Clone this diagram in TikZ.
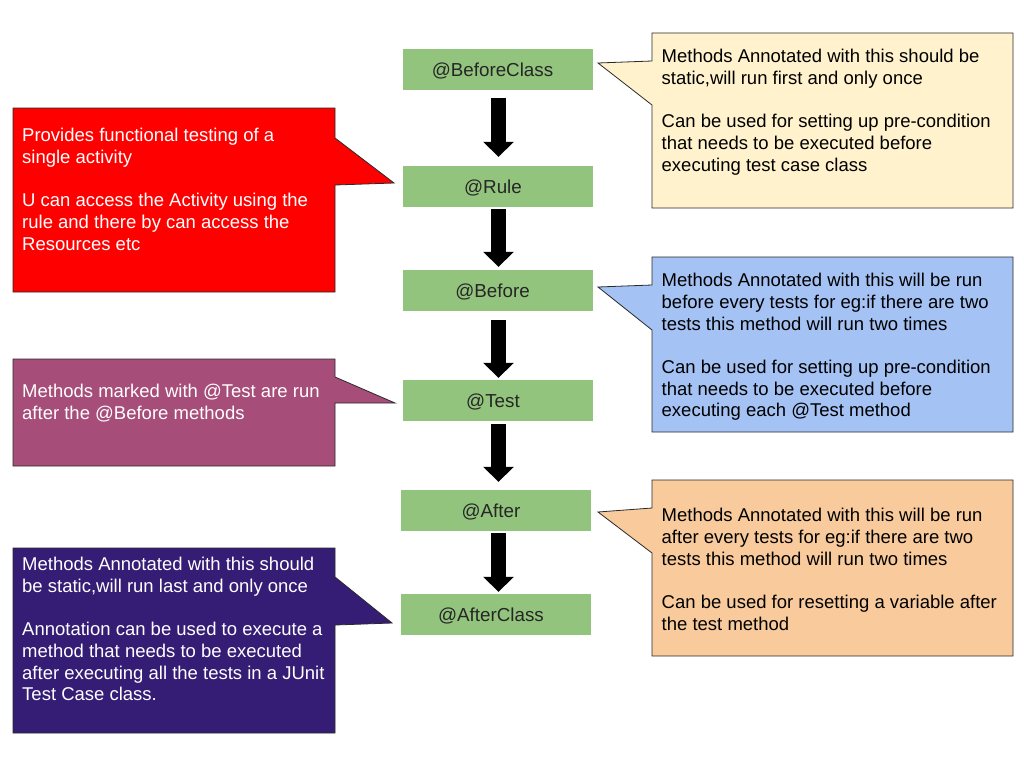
\documentclass[tikz,border=0pt]{standalone}
\usepackage{fontspec}
\setmainfont{Liberation Sans}
\usetikzlibrary{arrows.meta}
\definecolor{gbox}{HTML}{93C47D}
\definecolor{cyellow}{HTML}{FFF2CC}
\definecolor{cblue}{HTML}{A4C2F4}
\definecolor{corange}{HTML}{F9CB9C}
\definecolor{cred}{HTML}{FF0000}
\definecolor{cmag}{HTML}{A64D79}
\definecolor{cpurple}{HTML}{351C75}
\definecolor{edge}{HTML}{2A2A2A}
\begin{document}
\begin{tikzpicture}[x=1pt,y=-1pt,
  stepbox/.style={fill=gbox, minimum width=190pt, minimum height=41pt, inner sep=0pt,
    text height=13.3pt, text depth=0pt, text=black!85,
    font=\fontsize{18.8}{21.7}\selectfont, execute at end node={\hspace*{10pt}}},
  callout/.style={draw=edge, line width=0.8pt, line join=miter},
  ctext/.style={anchor=base west, align=left, inner sep=0pt,
    font=\fontsize{18.5}{21.7}\selectfont},
  blk/.style={line width=15pt, -{Triangle[width=30pt,length=15pt]}, black}
]
\useasboundingbox (0,0) rectangle (1024,768);
\fill[white] (0,0) rectangle (1024,768);

% callouts
\draw[callout, fill=cyellow] (652,33) -- (1013,33) -- (1013,208) -- (652,208) -- (652,105) -- (598,63) -- (652,61) -- cycle;
\draw[callout, fill=cred] (13,108) -- (335,108) -- (335,138) -- (394,183) -- (335,185) -- (335,292) -- (13,292) -- cycle;
\draw[callout, fill=cblue] (652,257) -- (1013,257) -- (1013,432) -- (652,432) -- (652,330) -- (598,287) -- (652,285) -- cycle;
\draw[callout, fill=cmag] (13,359) -- (335,359) -- (335,377) -- (395,403) -- (335,403) -- (335,466) -- (13,466) -- cycle;
\draw[callout, fill=corange] (652,480) -- (1013,480) -- (1013,656) -- (652,656) -- (652,553) -- (598,512) -- (652,508) -- cycle;
\draw[callout, fill=cpurple] (13,548) -- (335,548) -- (335,577) -- (392,623) -- (335,625) -- (335,733) -- (13,733) -- cycle;

% text nodes: base anchor is the baseline of the last line
\node[ctext] (tyellow) at (661.5,171.2) {Methods Annotated with this should be\\static,will run first and only once\\[21.7pt]Can be used for setting up pre-condition\\that needs to be executed before\\executing test case class};
\node[ctext, text=white] (tred) at (22,250.2) {Provides functional testing of a\\single activity\\[21.7pt]U can access the Activity using the\\rule and there by can access the\\Resources etc};
\node[ctext] (tblue) at (661.5,416.9) {Methods Annotated with this will be run\\before every tests for eg:if there are two\\tests this method will run two times\\[21.7pt]Can be used for setting up pre-condition\\that needs to be executed before\\executing each @Test method};
\node[ctext, text=white] (tmag) at (22,419.4) {Methods marked with @Test are run\\after the @Before methods};
\node[ctext] (torange) at (661.5,630.2) {Methods Annotated with this will be run\\after every tests for eg:if there are two\\tests this method will run two times\\[21.7pt]Can be used for resetting a variable after\\the test method};
\node[ctext, text=white] (tpurple) at (22,700.9) {Methods Annotated with this should\\be static,will run last and only once\\[21.7pt]Annotation can be used to execute a\\method that needs to be executed\\after executing all the tests in a JUnit\\Test Case class.};

% green boxes
\node[stepbox] (bc) at (497.5,69.5) {@BeforeClass};
\node[stepbox] (rule) at (498,186.5) {@Rule};
\node[stepbox] (before) at (497.5,290.5) {@Before};
\node[stepbox] (test) at (498,400.5) {@Test};
\node[stepbox] (after) at (496,510.5) {@After};
\node[stepbox] (ac) at (496,614.5) {@AfterClass};

\coordinate (ax) at (498.5,0);
\draw[blk, shorten <=8pt, shorten >=9pt] (bc.south -| ax) -- (rule.north -| ax);
\draw[blk, shorten <=2pt, shorten >=3pt] (rule.south -| ax) -- (before.north -| ax);
\draw[blk, shorten <=9pt, shorten >=2pt] (before.south -| ax) -- (test.north -| ax);
\draw[blk, shorten <=3pt, shorten >=8pt] (test.south -| ax) -- (after.north -| ax);
\draw[blk, shorten <=2pt, shorten >=2pt] (after.south -| ax) -- (ac.north -| ax);
\end{tikzpicture}
\end{document}
